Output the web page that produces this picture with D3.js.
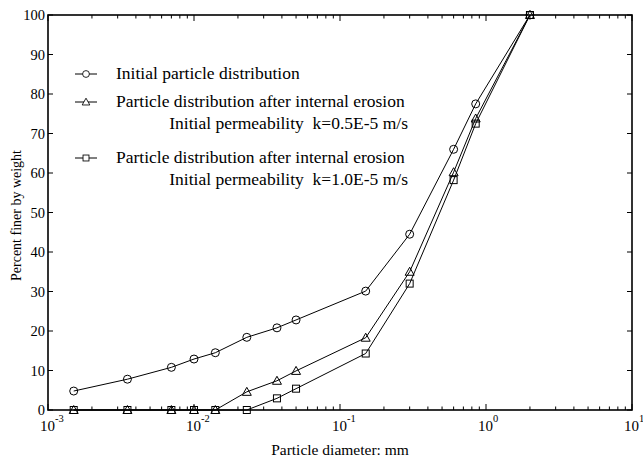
<!DOCTYPE html>
<html>
<head>
<script src="https://cdnjs.cloudflare.com/ajax/libs/d3/7.8.5/d3.min.js"></script>
<style>
  body { margin: 0; background: #fff; }
  svg text { font-family: "Liberation Serif", "Times New Roman", serif; fill: #000; white-space: pre; }
</style>
</head>
<body>
<div id="vis"></div>
<script type="text/javascript">

    // particle diameter (mm) sampled in the test
    const diameters = [0.0015, 0.0035, 0.007, 0.01, 0.014, 0.023, 0.037, 0.05, 0.15, 0.3, 0.6, 0.85, 2.0];
    // percent finer by weight
    const initialDist = [4.8, 7.8, 10.8, 12.9, 14.5, 18.4, 20.8, 22.8, 30.1, 44.5, 66.0, 77.5, 100];
    const erosionK05 = [0, 0, 0, 0, 0, 4.6, 7.4, 9.9, 18.3, 35.0, 60.2, 73.8, 100];
    const erosionK10 = [0, 0, 0, 0, 0, 0, 2.95, 5.4, 14.3, 32.0, 58.2, 72.5, 100];

    const xDecades = [-3, -2, -1, 0, 1];
    const yTicks = [0, 10, 20, 30, 40, 50, 60, 70, 80, 90, 100];

    const legendLabels = [
        ["Initial particle distribution"],
        ["Particle distribution after internal erosion", "Initial permeability  k=0.5E-5 m/s"],
        ["Particle distribution after internal erosion", "Initial permeability  k=1.0E-5 m/s"]
    ];

    const width = 643, height = 461;
    const margin = {top: 15, right: 11, bottom: 51, left: 48};

    const svg = d3.select("#vis").append("svg")
        .attr("width", width)
        .attr("height", height);

    var xScale = d3.scaleLog().domain([1e-3, 10]).range([margin.left, width - margin.right]);
    var yScale = d3.scaleLinear().domain([0, 100]).range([height - margin.bottom, margin.top]);

    const x0 = xScale.range()[0], x1 = xScale.range()[1];
    const y0 = yScale.range()[0], y1 = yScale.range()[1];

    // tick marks, all pointing inward
    var minor = [];
    xDecades.slice(0, -1).forEach(e => {
        for (var m = 2; m < 10; m++) minor.push(m * Math.pow(10, e));
    });
    var majors = xDecades.map(e => Math.pow(10, e));
    var ticks = svg.append("g").attr("stroke", "#000").attr("stroke-width", 1);
    [[y0, -1], [y1, 1]].forEach(([yy, dir]) => {
        ticks.selectAll(null).data(majors).join("line")
            .attr("x1", d => xScale(d)).attr("x2", d => xScale(d))
            .attr("y1", yy).attr("y2", yy + dir * 6);
        ticks.selectAll(null).data(minor).join("line")
            .attr("x1", d => xScale(d)).attr("x2", d => xScale(d))
            .attr("y1", yy).attr("y2", yy + dir * 3.5);
    });
    [[x0, 1], [x1, -1]].forEach(([xx, dir]) => {
        ticks.selectAll(null).data(yTicks).join("line")
            .attr("y1", d => yScale(d)).attr("y2", d => yScale(d))
            .attr("x1", xx).attr("x2", xx + dir * 5);
    });

    // frame
    svg.append("rect")
        .attr("x", x0).attr("y", y1)
        .attr("width", x1 - x0).attr("height", y0 - y1)
        .attr("fill", "none").attr("stroke", "#000").attr("stroke-width", 1.6);

    // y tick labels
    svg.append("g").selectAll("text").data(yTicks).join("text")
        .attr("x", x0 - 3)
        .attr("y", d => yScale(d) + 5)
        .attr("text-anchor", "end")
        .attr("font-size", 14.5)
        .text(d => d);

    // x tick labels as 10^n
    var xl = svg.append("g").selectAll("text").data(xDecades).join("text")
        .attr("x", d => xScale(Math.pow(10, d)) - 8)
        .attr("y", y0 + 21)
        .attr("font-size", 15);
    xl.append("tspan").text("10");
    xl.append("tspan").attr("font-size", 10.5).attr("dy", -9).text(d => d);

    // axis titles
    svg.append("text")
        .attr("x", (x0 + x1) / 2)
        .attr("y", 455)
        .attr("text-anchor", "middle")
        .attr("font-size", 15.5)
        .text("Particle diameter: mm");
    svg.append("text")
        .attr("transform", "translate(21," + ((y0 + y1) / 2 + 3) + ") rotate(-90)")
        .attr("text-anchor", "middle")
        .attr("font-size", 14)
        .text("Percent finer by weight");

    // markers
    const symCircle = (g) => g.append("circle").attr("r", 4);
    const symTriangle = (g) => g.append("path").attr("d", "M0,-4.5L4.5,3.5L-4.5,3.5Z");
    const symSquare = (g) => g.append("rect").attr("x", -3.5).attr("y", -3.5).attr("width", 7).attr("height", 7);
    const series = [
        {values: initialDist, sym: symCircle},
        {values: erosionK05, sym: symTriangle},
        {values: erosionK10, sym: symSquare}
    ];

    var line = d3.line()
        .x(d => xScale(d[0]))
        .y(d => yScale(d[1]));

    series.forEach(s => {
        var pts = diameters.map((d, i) => [d, s.values[i]]);
        svg.append("path")
            .attr("d", line(pts))
            .attr("fill", "none").attr("stroke", "#000").attr("stroke-width", 1);
        svg.append("g").selectAll("g").data(pts).join("g")
            .attr("transform", d => "translate(" + xScale(d[0]) + "," + yScale(d[1]) + ")")
            .call(s.sym)
            .selectAll("*")
            .attr("fill", "none").attr("stroke", "#000").attr("stroke-width", 1);
    });

    // legend
    const legendY = [74, 102, 158];
    var lg = svg.append("g");
    series.forEach((s, i) => {
        var row = lg.append("g").attr("transform", "translate(86," + legendY[i] + ")");
        row.append("line").attr("x1", -11).attr("x2", 11)
            .attr("stroke", "#000").attr("stroke-width", 1);
        s.sym(row).attr("fill", "#fff").attr("stroke", "#000").attr("stroke-width", 1)
            .attr("transform", "scale(0.85)");
        var labels = legendLabels[i];
        row.append("text")
            .attr("x", 30).attr("y", 5)
            .attr("font-size", 17.5)
            .text(labels[0]);
        if (labels[1]) {
            row.append("text")
                .attr("x", 322).attr("y", 27)
                .attr("text-anchor", "end")
                .attr("font-size", 17.5)
                .text(labels[1]);
        }
    });

</script>
</body>
</html>
